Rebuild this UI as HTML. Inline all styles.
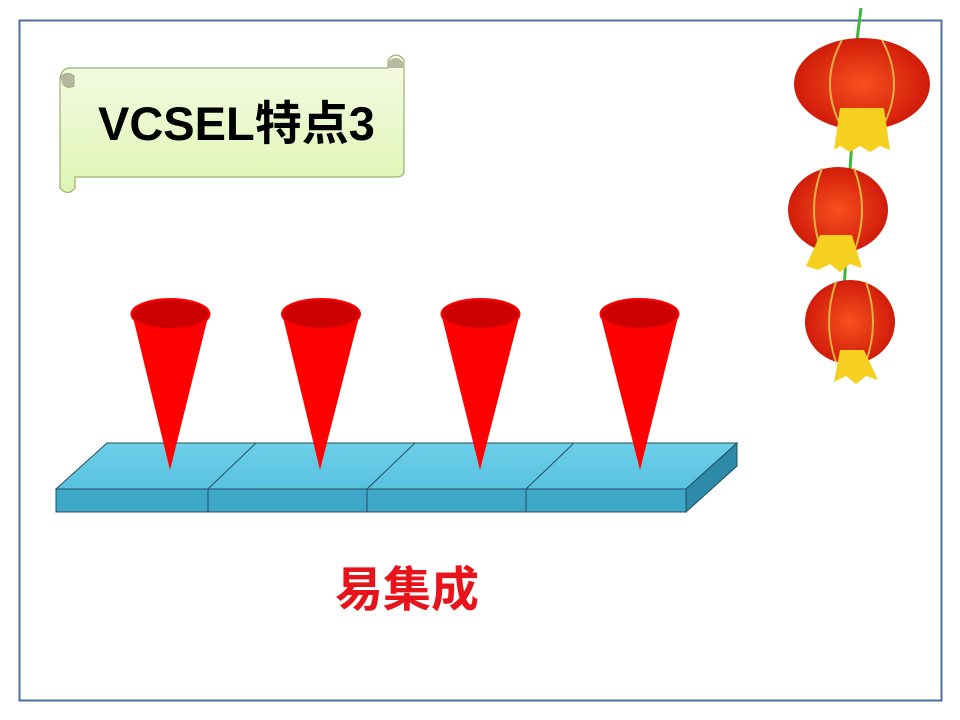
<!DOCTYPE html>
<html><head><meta charset="utf-8"><style>
body{margin:0;width:960px;height:720px;background:#fff;overflow:hidden;font-family:"Liberation Sans","Noto Sans CJK SC",sans-serif}
</style></head><body>
<svg width="960" height="720" xmlns="http://www.w3.org/2000/svg" style="position:absolute;left:0;top:0">
<defs>
<linearGradient id="scr" x1="0" y1="0" x2="0" y2="1"><stop offset="0" stop-color="#f6fbe6"/><stop offset="1" stop-color="#def5b4"/></linearGradient>
<linearGradient id="top" x1="0" y1="0" x2="0" y2="1"><stop offset="0" stop-color="#6dcfe8"/><stop offset="1" stop-color="#58c2e0"/></linearGradient>
<radialGradient id="lan" cx="0.5" cy="0.5" r="0.5"><stop offset="0" stop-color="#f8501e"/><stop offset="1" stop-color="#d01c0a"/></radialGradient>
</defs>
<rect x="19.5" y="20.5" width="922" height="680" fill="none" stroke="#4f6f9f" stroke-width="2"/>
<!-- scroll -->
<path d="M388 68 L388 60 Q396 50 404 60 L404 170 Q404 177 397 177 L75 177 L75 188 Q68 197 60 188 L60 78 Q62 68 70 68 Z" fill="url(#scr)" stroke="#9bb070" stroke-width="1.2"/>
<path d="M60 78 Q66 70 74 76 L74 86 Q66 90 62 82" fill="#b8b8a0" stroke="#9bb070"/>
<path d="M388 62 Q396 54 403 62 L403 68 L388 68 Z" fill="#b8b8a0"/>
<text x="98" y="140" font-size="47" font-weight="bold" fill="#000" font-family="Liberation Sans, Noto Sans CJK SC, sans-serif">VCSEL特点3</text>
<!-- slab -->
<polygon points="107,443 737,443 686,489 56,489" fill="url(#top)" stroke="#23505f" stroke-width="1"/>
<polygon points="56,489 686,489 686,512 56,512" fill="#3fa7c8" stroke="#23505f" stroke-width="1"/>
<polygon points="686,489 737,443 737,466 686,512" fill="#2d8aa8" stroke="#23505f" stroke-width="1"/>
<g stroke="#23505f" stroke-width="1" fill="none">
<path d="M256 443 L208 489 L208 512"/>
<path d="M415 443 L367 489 L367 512"/>
<path d="M574 443 L526 489 L526 512"/>
</g>
<!-- cones -->
<g>
<polygon points="132,313 209,313 170,470" fill="#ff0000"/><ellipse cx="170.5" cy="314" rx="39" ry="15" fill="#cc0000" stroke="#f00" stroke-width="2"/>
<polygon points="282,313 360,313 320,470" fill="#ff0000"/><ellipse cx="321" cy="314" rx="39" ry="15" fill="#cc0000" stroke="#f00" stroke-width="2"/>
<polygon points="441,313 520,313 480,470" fill="#ff0000"/><ellipse cx="480.5" cy="314" rx="39" ry="15" fill="#cc0000" stroke="#f00" stroke-width="2"/>
<polygon points="600,313 679,313 640,470" fill="#ff0000"/><ellipse cx="639.5" cy="314" rx="39" ry="15" fill="#cc0000" stroke="#f00" stroke-width="2"/>
</g>
<text x="335" y="606" font-size="48" font-weight="bold" fill="#e8141c" font-family="Liberation Sans, Noto Sans CJK SC, sans-serif">易集成</text>
<!-- lanterns -->
<path d="M861 8 L857 40 M852 140 L850 170 M846 255 L844 290" stroke="#3bb83b" stroke-width="3"/>
<ellipse cx="862" cy="84" rx="68" ry="46" fill="url(#lan)"/>
<path d="M842 40 Q818 84 842 128 M882 40 Q906 84 882 128" stroke="#e0b040" stroke-width="2" fill="none"/>
<polygon points="840,108 884,108 890,150 880,146 870,152 860,146 850,152 840,146 834,150" fill="#f5d020"/>
<ellipse cx="838" cy="210" rx="50" ry="43" fill="url(#lan)"/>
<path d="M822 168 Q806 210 822 252 M854 168 Q870 210 854 252" stroke="#e0b040" stroke-width="2" fill="none"/>
<polygon points="820,235 852,235 862,268 850,264 840,272 830,264 818,270 806,266" fill="#f5d020"/>
<ellipse cx="850" cy="322" rx="45" ry="42" fill="url(#lan)"/>
<path d="M836 282 Q822 322 836 362 M866 282 Q880 322 866 362" stroke="#e0b040" stroke-width="2" fill="none"/>
<polygon points="840,350 864,350 878,380 866,376 856,384 846,376 834,382" fill="#f5d020"/>
</svg>
</body></html>
